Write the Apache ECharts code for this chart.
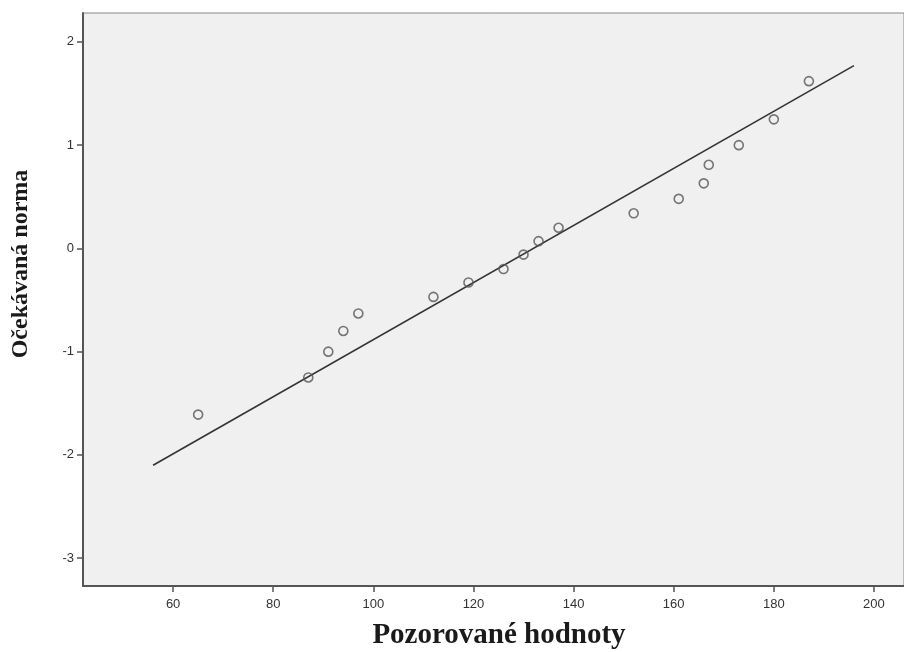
<!DOCTYPE html>
<html>
<head>
<meta charset="utf-8">
<script src="https://cdn.jsdelivr.net/npm/echarts@6/dist/echarts.min.js"></script>
<style>
html,body{margin:0;padding:0;background:#fff;}
#main{width:904px;height:652px;}
</style>
</head>
<body>
<div id="main"></div>
<script>
var observed = [65, 87, 91, 94, 97, 112, 119, 126, 130, 133, 137, 152, 161, 166, 167, 173, 180, 187];
var expected = [-1.61, -1.25, -1.00, -0.80, -0.63, -0.47, -0.33, -0.20, -0.06, 0.07, 0.20, 0.34, 0.48, 0.63, 0.81, 1.00, 1.25, 1.62];
var lineX = [56, 196];
var lineY = [-2.10, 1.77];
var xTicks = [60, 80, 100, 120, 140, 160, 180, 200];
var yTicks = [-3, -2, -1, 0, 1, 2];
var xTitle = 'Pozorované hodnoty';
var yTitle = 'Očekávaná norma';

var chart = echarts.init(document.getElementById('main'));
var pts = observed.map(function(v, i){ return [v, expected[i]]; });
var linePts = lineX.map(function(v, i){ return [v, lineY[i]]; });

chart.setOption({
  animation: false,
  grid: {
    left: 83, top: 13, right: 0, bottom: 66,
    outerBoundsMode: 'none', containLabel: false,
    show: true, backgroundColor: '#f0f0f0', borderColor: '#888', borderWidth: 1
  },
  graphic: [
    {
      type: 'text', x: 21, y: 264, rotation: Math.PI / 2,
      style: {
        text: yTitle, fontFamily: 'Liberation Serif', fontWeight: 'bold', fontSize: 24,
        fill: '#1a1a1a', align: 'center', verticalAlign: 'middle'
      }
    },
    {
      type: 'text', x: 499, y: 636,
      style: {
        text: xTitle, fontFamily: 'Liberation Serif', fontWeight: 'bold', fontSize: 29,
        fill: '#1a1a1a', align: 'center', verticalAlign: 'middle'
      }
    }
  ],
  xAxis: {
    type: 'value', min: 42, max: 206,
    axisLine: { show: true, onZero: false, lineStyle: { color: '#555', width: 2 } },
    axisTick: { show: true, length: 6, customValues: xTicks, lineStyle: { color: '#555', width: 1.5 } },
    axisLabel: { customValues: xTicks, fontFamily: 'Liberation Sans', fontSize: 13, color: '#333', margin: 12 },
    splitLine: { show: false }
  },
  yAxis: {
    type: 'value', min: -3.27, max: 2.28,
    axisLine: { show: true, onZero: false, lineStyle: { color: '#555', width: 2 } },
    axisTick: { show: true, length: 6, customValues: yTicks, lineStyle: { color: '#555', width: 1.5 } },
    axisLabel: { customValues: yTicks, fontFamily: 'Liberation Sans', fontSize: 13, color: '#333', margin: 9 },
    splitLine: { show: false }
  },
  series: [
    {
      type: 'line', data: linePts, symbol: 'none',
      lineStyle: { color: '#333', width: 1.6 }, silent: true, z: 2
    },
    {
      type: 'scatter', data: pts, symbol: 'circle', symbolSize: 9,
      itemStyle: { color: 'rgba(0,0,0,0)', borderColor: '#555', borderWidth: 1.6 }, z: 3
    }
  ]
});
</script>
</body>
</html>
